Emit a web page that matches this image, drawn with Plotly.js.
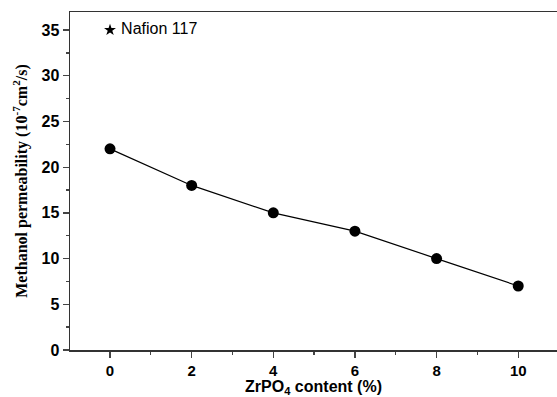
<!DOCTYPE html>
<html><head><meta charset="utf-8">
<script src="https://cdn.plot.ly/plotly-3.0.1.min.js"></script>
<style>html,body{margin:0;padding:0;background:#fff;overflow:hidden}</style>
</head><body><div id="chart" style="width:557px;height:397px"></div>
<script>
const content = [0, 2, 4, 6, 8, 10];
const permeability = [22, 18, 15, 13, 10, 7];
const nafionX = [0];
const nafionY = [35];
const nafionLabel = ['Nafion 117'];

const data = [
  {x: content, y: permeability, type: 'scatter', mode: 'lines+markers',
   line: {color: '#000', width: 1.2},
   marker: {symbol: 'circle', size: 11, color: '#000'}, showlegend: false},
  {x: nafionX, y: nafionY, type: 'scatter', mode: 'markers+text',
   text: nafionLabel.map(s => ' ' + s), textposition: 'middle right',
   textfont: {family: 'Arial, Liberation Sans', size: 16, color: '#000'},
   marker: {symbol: 'star', size: 9, color: '#000'}, showlegend: false}
];

const layout = {
  width: 557, height: 397,
  margin: {l: 70, r: 0, t: 12, b: 47},
  paper_bgcolor: '#fff', plot_bgcolor: '#fff',
  xaxis: {range: [-0.98, 10.95], tickvals: [0,2,4,6,8,10], ticks: 'outside', ticklen: 6, tickwidth: 1.3,
    minor: {ticks: 'outside', ticklen: 3, tickvals: [-1,1,3,5,7,9]},
    showline: true, linecolor: '#333', linewidth: 1.5, mirror: true, showgrid: false, zeroline: false,
    tickfont: {family: 'Arial, Liberation Sans', size: 15, color: '#000', weight: 'bold'},
    title: {text: 'ZrPO<sub>4</sub> content (%)', standoff: 4,
      font: {family: 'Arial, Liberation Sans', size: 16, color: '#000', weight: 'bold'}}},
  yaxis: {range: [0, 36.97], tickvals: [0,5,10,15,20,25,30,35], ticks: 'outside', ticklen: 6, tickwidth: 1.3,
    minor: {ticks: 'outside', ticklen: 3, tickvals: [2.5,7.5,12.5,17.5,22.5,27.5,32.5]},
    showline: true, linecolor: '#333', linewidth: 1.5, mirror: false, showgrid: false, zeroline: false,
    tickfont: {family: 'Arial, Liberation Sans', size: 16, color: '#000', weight: 'bold'},
    title: {text: 'Methanol permeability (10<sup>-7</sup>cm<sup>2</sup>/s)', standoff: 10,
      font: {family: 'Times New Roman, Liberation Serif', size: 16, color: '#000', weight: 'bold'}}}
};
Plotly.newPlot('chart', data, layout, {displayModeBar: false, staticPlot: true});
</script></body></html>
